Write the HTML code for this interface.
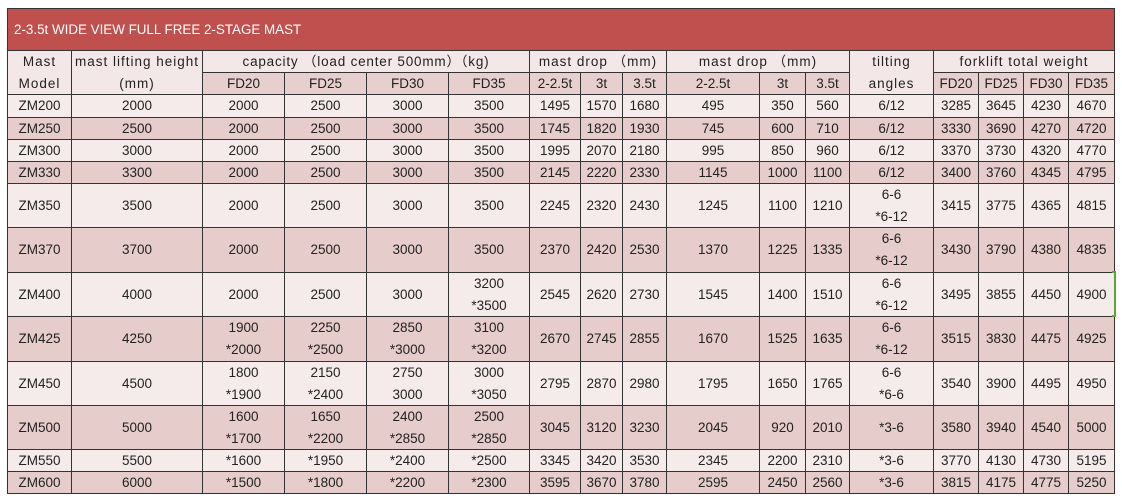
<!DOCTYPE html>
<html>
<head>
<meta charset="utf-8">
<style>
html,body{margin:0;padding:0;background:#ffffff;}
body{width:1122px;height:500px;position:relative;overflow:hidden;font-family:"Liberation Sans","Noto Sans CJK SC",sans-serif;color:#222;}
.grid{position:absolute;left:7px;top:8px;display:grid;background:#333;padding:1px;gap:1px;
grid-template-columns:63px 130px 81px 81px 81px 80px 50px 41px 43px 92px 45px 43px 83px 44px 44px 44px 45px;
grid-template-rows:41px 21px 21px 22px 21px 21px 21px 43px 44px 43px 44px 43px 43px 21px 21px;}
.grid>div{display:flex;align-items:center;justify-content:center;text-align:center;font-size:13.5px;line-height:22px;white-space:nowrap;overflow:hidden;}
.t{grid-column:1/18;background:#c0504d !important;color:#fff;justify-content:flex-start !important;padding-left:6px;font-size:13.4px !important;}
.h{background:#f4e7e7;}
.hd{background:#e7cfce;}
.tx{letter-spacing:1px;}
.l{background:#f6ebeb;}
.d{background:#e6cccb;}
.green{position:absolute;left:1114px;top:271px;width:2px;height:46px;background:#5aa83a;}
.gt{position:absolute;left:1112px;width:4px;height:2px;background:#5aa83a;}
</style>
</head>
<body>
<div class="grid">
<div class="t">2-3.5t WIDE VIEW FULL FREE 2-STAGE MAST</div>

<div class="h tx" style="grid-column:1;grid-row:2/4;">Mast<br>Model</div>
<div class="h tx" style="grid-column:2;grid-row:2/4;">mast lifting height<br>(mm)</div>
<div class="h" style="grid-column:3/7;grid-row:2;letter-spacing:0.8px;">capacity （load center 500mm）（kg)</div>
<div class="h tx" style="grid-column:7/10;grid-row:2;">mast drop （mm)</div>
<div class="h tx" style="grid-column:10/13;grid-row:2;">mast drop （mm)</div>
<div class="h tx" style="grid-column:13;grid-row:2/4;">tilting<br>angles</div>
<div class="h tx" style="grid-column:14/18;grid-row:2;">forklift total weight</div>

<div class="hd" style="grid-column:3;grid-row:3;">FD20</div>
<div class="hd" style="grid-column:4;grid-row:3;">FD25</div>
<div class="hd" style="grid-column:5;grid-row:3;">FD30</div>
<div class="hd" style="grid-column:6;grid-row:3;">FD35</div>
<div class="hd" style="grid-column:7;grid-row:3;">2-2.5t</div>
<div class="hd" style="grid-column:8;grid-row:3;">3t</div>
<div class="hd" style="grid-column:9;grid-row:3;">3.5t</div>
<div class="hd" style="grid-column:10;grid-row:3;">2-2.5t</div>
<div class="hd" style="grid-column:11;grid-row:3;">3t</div>
<div class="hd" style="grid-column:12;grid-row:3;">3.5t</div>
<div class="hd" style="grid-column:14;grid-row:3;">FD20</div>
<div class="hd" style="grid-column:15;grid-row:3;">FD25</div>
<div class="hd" style="grid-column:16;grid-row:3;">FD30</div>
<div class="hd" style="grid-column:17;grid-row:3;">FD35</div>

<div class="l">ZM200</div><div class="l">2000</div><div class="l">2000</div><div class="l">2500</div><div class="l">3000</div><div class="l">3500</div><div class="l">1495</div><div class="l">1570</div><div class="l">1680</div><div class="l">495</div><div class="l">350</div><div class="l">560</div><div class="l">6/12</div><div class="l">3285</div><div class="l">3645</div><div class="l">4230</div><div class="l">4670</div>
<div class="d">ZM250</div><div class="d">2500</div><div class="d">2000</div><div class="d">2500</div><div class="d">3000</div><div class="d">3500</div><div class="d">1745</div><div class="d">1820</div><div class="d">1930</div><div class="d">745</div><div class="d">600</div><div class="d">710</div><div class="d">6/12</div><div class="d">3330</div><div class="d">3690</div><div class="d">4270</div><div class="d">4720</div>
<div class="l">ZM300</div><div class="l">3000</div><div class="l">2000</div><div class="l">2500</div><div class="l">3000</div><div class="l">3500</div><div class="l">1995</div><div class="l">2070</div><div class="l">2180</div><div class="l">995</div><div class="l">850</div><div class="l">960</div><div class="l">6/12</div><div class="l">3370</div><div class="l">3730</div><div class="l">4320</div><div class="l">4770</div>
<div class="d">ZM330</div><div class="d">3300</div><div class="d">2000</div><div class="d">2500</div><div class="d">3000</div><div class="d">3500</div><div class="d">2145</div><div class="d">2220</div><div class="d">2330</div><div class="d">1145</div><div class="d">1000</div><div class="d">1100</div><div class="d">6/12</div><div class="d">3400</div><div class="d">3760</div><div class="d">4345</div><div class="d">4795</div>
<div class="l">ZM350</div><div class="l">3500</div><div class="l">2000</div><div class="l">2500</div><div class="l">3000</div><div class="l">3500</div><div class="l">2245</div><div class="l">2320</div><div class="l">2430</div><div class="l">1245</div><div class="l">1100</div><div class="l">1210</div><div class="l">6-6<br>*6-12</div><div class="l">3415</div><div class="l">3775</div><div class="l">4365</div><div class="l">4815</div>
<div class="d">ZM370</div><div class="d">3700</div><div class="d">2000</div><div class="d">2500</div><div class="d">3000</div><div class="d">3500</div><div class="d">2370</div><div class="d">2420</div><div class="d">2530</div><div class="d">1370</div><div class="d">1225</div><div class="d">1335</div><div class="d">6-6<br>*6-12</div><div class="d">3430</div><div class="d">3790</div><div class="d">4380</div><div class="d">4835</div>
<div class="l">ZM400</div><div class="l">4000</div><div class="l">2000</div><div class="l">2500</div><div class="l">3000</div><div class="l">3200<br>*3500</div><div class="l">2545</div><div class="l">2620</div><div class="l">2730</div><div class="l">1545</div><div class="l">1400</div><div class="l">1510</div><div class="l">6-6<br>*6-12</div><div class="l">3495</div><div class="l">3855</div><div class="l">4450</div><div class="l">4900</div>
<div class="d">ZM425</div><div class="d">4250</div><div class="d">1900<br>*2000</div><div class="d">2250<br>*2500</div><div class="d">2850<br>*3000</div><div class="d">3100<br>*3200</div><div class="d">2670</div><div class="d">2745</div><div class="d">2855</div><div class="d">1670</div><div class="d">1525</div><div class="d">1635</div><div class="d">6-6<br>*6-12</div><div class="d">3515</div><div class="d">3830</div><div class="d">4475</div><div class="d">4925</div>
<div class="l">ZM450</div><div class="l">4500</div><div class="l">1800<br>*1900</div><div class="l">2150<br>*2400</div><div class="l">2750<br>3000</div><div class="l">3000<br>*3050</div><div class="l">2795</div><div class="l">2870</div><div class="l">2980</div><div class="l">1795</div><div class="l">1650</div><div class="l">1765</div><div class="l">6-6<br>*6-6</div><div class="l">3540</div><div class="l">3900</div><div class="l">4495</div><div class="l">4950</div>
<div class="d">ZM500</div><div class="d">5000</div><div class="d">1600<br>*1700</div><div class="d">1650<br>*2200</div><div class="d">2400<br>*2850</div><div class="d">2500<br>*2850</div><div class="d">3045</div><div class="d">3120</div><div class="d">3230</div><div class="d">2045</div><div class="d">920</div><div class="d">2010</div><div class="d">*3-6</div><div class="d">3580</div><div class="d">3940</div><div class="d">4540</div><div class="d">5000</div>
<div class="l">ZM550</div><div class="l">5500</div><div class="l">*1600</div><div class="l">*1950</div><div class="l">*2400</div><div class="l">*2500</div><div class="l">3345</div><div class="l">3420</div><div class="l">3530</div><div class="l">2345</div><div class="l">2200</div><div class="l">2310</div><div class="l">*3-6</div><div class="l">3770</div><div class="l">4130</div><div class="l">4730</div><div class="l">5195</div>
<div class="d">ZM600</div><div class="d">6000</div><div class="d">*1500</div><div class="d">*1800</div><div class="d">*2200</div><div class="d">*2300</div><div class="d">3595</div><div class="d">3670</div><div class="d">3780</div><div class="d">2595</div><div class="d">2450</div><div class="d">2560</div><div class="d">*3-6</div><div class="d">3815</div><div class="d">4175</div><div class="d">4775</div><div class="d">5250</div>
</div>
<div class="green"></div>
<div class="gt" style="top:271px;"></div>
<div class="gt" style="top:315px;"></div>
</body>
</html>
